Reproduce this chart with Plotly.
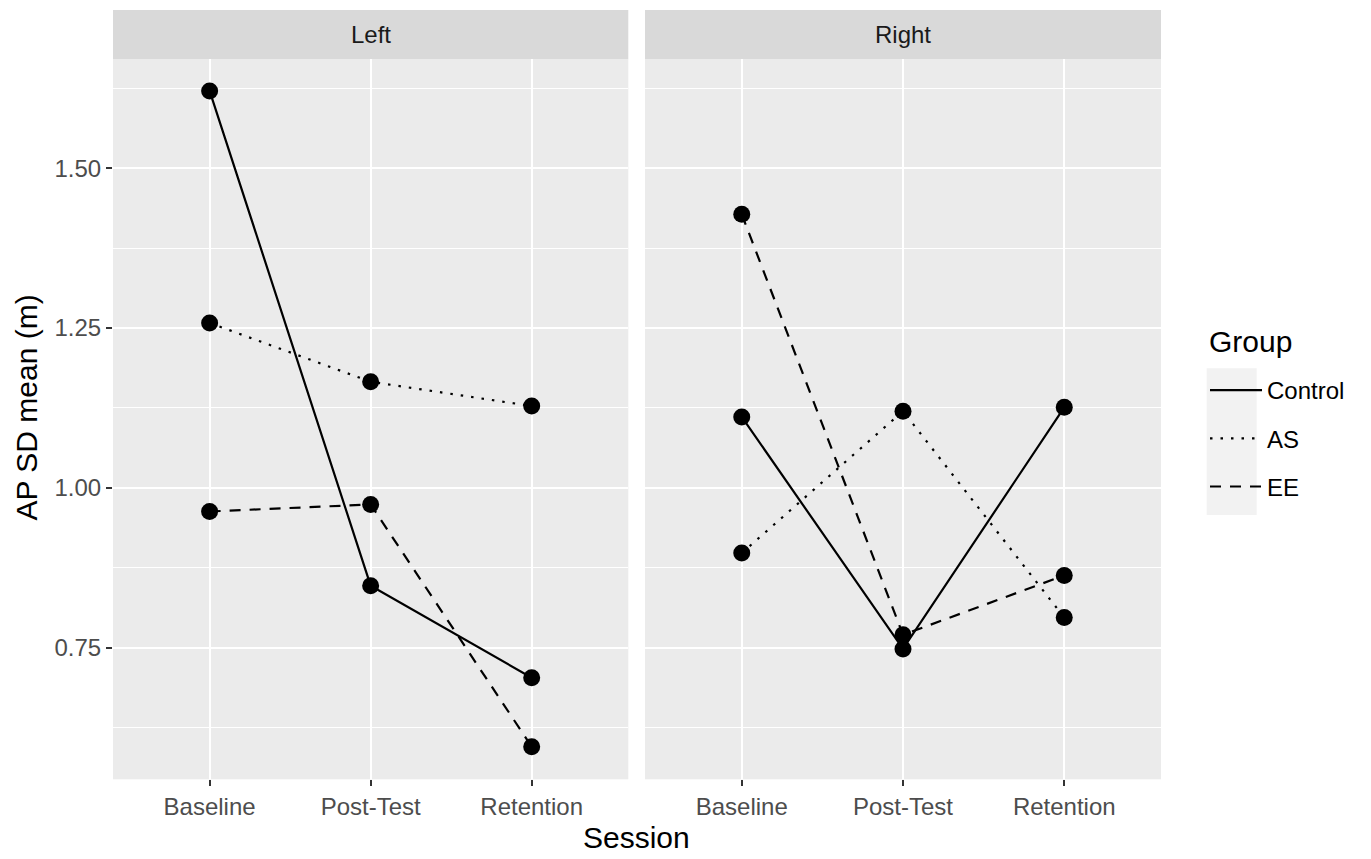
import plotly.graph_objects as go

W, H = 1371, 859

sessions = ["Baseline", "Post-Test", "Retention"]
groups = ["Control", "AS", "EE"]
panels = ["Left", "Right"]

left_control = [1.621, 0.847, 0.703]
left_as = [1.258, 1.166, 1.128]
left_ee = [0.963, 0.974, 0.595]
right_control = [1.111, 0.748, 1.126]
right_as = [0.898, 1.120, 0.797]
right_ee = [1.428, 0.770, 0.863]

y_ticks = [0.75, 1.00, 1.25, 1.50]
y_tick_labels = ["0.75", "1.00", "1.25", "1.50"]

data = {
    "Left": {"Control": left_control, "AS": left_as, "EE": left_ee},
    "Right": {"Control": right_control, "AS": right_as, "EE": right_ee},
}
dashes = {"Control": "solid", "AS": "2.5px,8px", "EE": "11px,9px"}

FONT = "Liberation Sans, Arial, Helvetica, sans-serif"

fig = go.Figure()
for pi, panel in enumerate(panels):
    xa = "x" if pi == 0 else "x2"
    ya = "y" if pi == 0 else "y2"
    for g in groups:
        fig.add_trace(go.Scatter(
            x=sessions, y=data[panel][g], mode="lines", name=g,
            legendgroup=g, showlegend=(pi == 0),
            line=dict(color="black", width=2.2, dash=dashes[g]),
            xaxis=xa, yaxis=ya, hoverinfo="skip"))
    for g in groups:
        fig.add_trace(go.Scatter(
            x=sessions, y=data[panel][g], mode="markers", name=g,
            legendgroup=g, showlegend=False,
            marker=dict(color="black", size=17, line=dict(width=0)),
            xaxis=xa, yaxis=ya))

def px_x(v):
    return v / W

def px_y(v):
    return 1 - v / H

panel_x = [(113, 628.3), (645, 1161)]
y_top, y_bot = 59.3, 779.3
strip_top = 10

xcommon = dict(
    type="category", categoryorder="array", categoryarray=sessions,
    range=[-0.6, 2.6], showgrid=True, gridcolor="white", gridwidth=2,
    ticks="outside", ticklen=6, tickwidth=2, tickcolor="#333333",
    tickfont=dict(size=24, color="#4D4D4D", family=FONT),
    showline=False, zeroline=False, automargin=False, fixedrange=True,
)
ycommon = dict(
    range=[0.544, 1.6705], tickvals=y_ticks, ticktext=y_tick_labels,
    showgrid=True, gridcolor="white", gridwidth=2,
    minor=dict(dtick=0.125, tick0=0.625, showgrid=True, gridcolor="white", gridwidth=1),
    zeroline=False, showline=False, automargin=False, fixedrange=True,
    domain=[px_y(y_bot), px_y(y_top)],
)

fig.update_layout(
    xaxis=dict(domain=[px_x(panel_x[0][0]), px_x(panel_x[0][1])], anchor="y", **xcommon),
    xaxis2=dict(domain=[px_x(panel_x[1][0]), px_x(panel_x[1][1])], anchor="y2", **xcommon),
    yaxis=dict(anchor="x", ticks="outside", ticklen=6, tickwidth=2, tickcolor="#333333",
               tickfont=dict(size=24, color="#4D4D4D", family=FONT), **ycommon),
    yaxis2=dict(anchor="x2", matches="y", showticklabels=False, ticks="", **ycommon),
)

shapes = []
annotations = []
for (x0, x1), panel in zip(panel_x, panels):
    shapes.append(dict(type="rect", xref="paper", yref="paper",
                       x0=px_x(x0), x1=px_x(x1), y0=px_y(y_top), y1=px_y(strip_top),
                       fillcolor="#D9D9D9", line=dict(width=0), layer="below"))
    annotations.append(dict(text=panel, xref="paper", yref="paper",
                            x=px_x((x0 + x1) / 2), y=px_y((strip_top + y_top) / 2),
                            xanchor="center", yanchor="middle", showarrow=False,
                            font=dict(size=24, color="#1A1A1A", family=FONT)))

# legend key background
shapes.append(dict(type="rect", xref="paper", yref="paper",
                   x0=px_x(1206.7), x1=px_x(1256.7), y0=px_y(515), y1=px_y(368.3),
                   fillcolor="#F2F2F2", line=dict(width=0), layer="below"))

annotations.append(dict(text="Group", xref="paper", yref="paper",
                        x=px_x(1207), y=px_y(341), xanchor="left", yanchor="middle",
                        showarrow=False, font=dict(size=30, color="black", family=FONT)))
annotations.append(dict(text="Session", xref="paper", yref="paper",
                        x=px_x(636.7), y=px_y(837.5), xanchor="center", yanchor="middle",
                        showarrow=False, font=dict(size=30, color="black", family=FONT)))
annotations.append(dict(text="AP SD mean (m)", xref="paper", yref="paper", textangle=-90,
                        x=px_x(26), y=px_y(407.5), xanchor="center", yanchor="middle",
                        showarrow=False, font=dict(size=30, color="black", family=FONT)))

fig.update_layout(
    width=W, height=H,
    margin=dict(l=0, r=0, t=0, b=0),
    paper_bgcolor="white", plot_bgcolor="#EBEBEB",
    shapes=shapes, annotations=annotations,
    font=dict(family=FONT, color="black"),
    legend=dict(
        font=dict(size=24, color="black", family=FONT),
        x=px_x(1205), y=px_y(368), xanchor="left", yanchor="top",
        bgcolor="rgba(0,0,0,0)", borderwidth=0,
        traceorder="grouped", tracegroupgap=14, itemwidth=52,
    ),
    hovermode=False,
)

fig.write_html("out.html", config={"displayModeBar": False},
               post_script="document.body.style.margin='0';document.body.style.overflow='hidden';")
